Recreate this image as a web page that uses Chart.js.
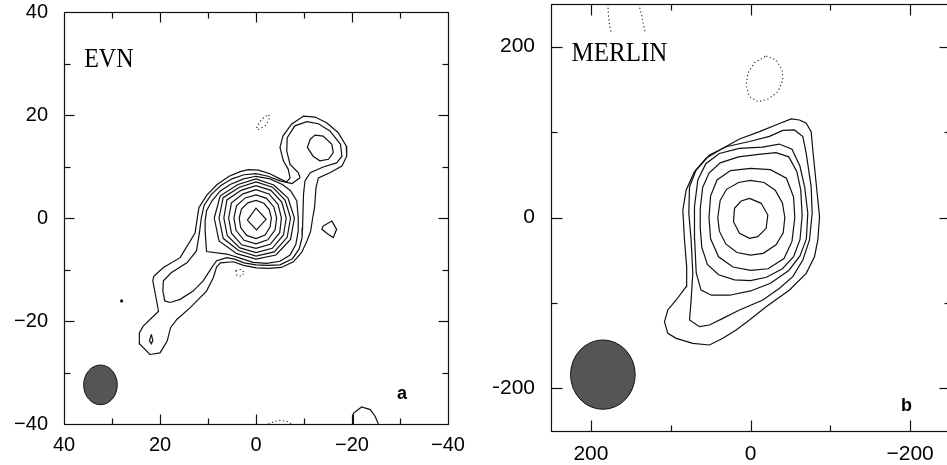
<!DOCTYPE html>
<html>
<head>
<meta charset="utf-8">
<script src="https://cdn.jsdelivr.net/npm/chart.js@4/dist/chart.umd.min.js"></script>
<style>
  html, body { margin: 0; padding: 0; background: #fff; overflow: hidden; width: 947px; height: 465px; }
  #evnBox { position: absolute; left: 0; top: 0; width: 480px; height: 465px; }
  #merlinBox { position: absolute; left: 493px; top: 0; width: 467px; height: 465px; }
</style>
</head>
<body>
<div id="evnBox"><canvas id="evn" width="480" height="465"></canvas></div>
<div id="merlinBox"><canvas id="merlin" width="467" height="465"></canvas></div>
<script>
// ---------- EVN map (offsets in mas, RA increases to the left) ----------
const evnTickValues = [40, 20, 0, -20, -40];
const evnMinorTicks = [30, 10, -10, -30];

// lowest positive level: core + NW knot + SE jet
const evnLevel1 = [[-6.4, 7.0], [-7.1, 7.8], [-6.7, 9.5], [-5.7, 11.1], [-5.0, 13.7], [-5.6, 15.9], [-7.4, 18.2], [-9.9, 19.8], [-12.3, 19.6], [-14.7, 18.5], [-17.1, 16.6], [-18.8, 14.0], [-18.9, 12.0], [-17.9, 10.1], [-15.4, 8.8], [-13.0, 7.8], [-12.5, 5.9], [-12.2, 2.0], [-11.8, 0.0], [-11.4, -2.5], [-10.6, -4.5], [-9.5, -6.7], [-7.8, -8.5], [-5.3, -9.6], [-2.6, -9.8], [-0.1, -9.7], [2.6, -9.2], [4.7, -8.5], [7.4, -8.7], [8.2, -9.5], [8.9, -11.6], [10.3, -14.2], [13.7, -17.4], [16.5, -19.7], [17.8, -21.3], [18.5, -23.9], [20.0, -26.2], [22.1, -26.5], [24.2, -24.5], [24.3, -22.3], [23.5, -21.0], [20.3, -18.1], [21.5, -12.2], [21.3, -11.3], [19.3, -9.6], [15.8, -7.7], [12.7, -2.9], [11.9, 2.0], [10.2, 4.5], [8.1, 6.5], [5.6, 8.1], [3.3, 9.0], [1.6, 9.4], [-0.5, 9.3], [-2.9, 8.6], [-5.0, 7.6]];
const evnLevel2 = [[-9.2, 7.8], [-8.8, 8.8], [-7.1, 10.4], [-6.4, 13.0], [-6.5, 15.6], [-8.1, 17.9], [-10.6, 18.7], [-13.0, 18.3], [-15.4, 16.9], [-17.6, 14.3], [-17.9, 12.0], [-16.8, 10.7], [-14.0, 9.9], [-11.3, 8.8], [-10.2, 7.2], [-9.9, 4.6], [-9.7, -1.9], [-9.6, -3.8], [-9.0, -6.0], [-7.6, -7.9], [-5.0, -9.1], [-2.5, -9.2], [0.0, -9.1], [2.5, -8.7], [4.5, -8.0], [6.1, -7.7], [8.2, -8.3], [9.2, -9.6], [11.0, -12.2], [13.1, -14.2], [15.8, -15.8], [17.9, -16.4], [19.0, -16.1], [19.4, -14.2], [19.3, -12.2], [17.6, -10.6], [14.4, -8.7], [12.4, -6.4], [11.8, -3.0], [11.4, 0.0], [10.8, 2.5], [9.3, 4.6], [7.3, 6.3], [5.0, 7.6], [2.5, 8.4], [0.0, 8.6], [-2.5, 8.1], [-5.0, 7.2], [-7.5, 6.7]];
const evnLevel3 = [[10.6, -2.5], [10.3, -6.5], [6.1, -7.0], [3.3, -7.8], [0.6, -8.6], [-2.2, -8.8], [-5.0, -8.4], [-7.1, -7.2], [-8.3, -5.1], [-8.8, -2.5], [-8.8, 0.0], [-8.5, 3.3], [-7.2, 5.3], [-5.5, 6.5], [-2.9, 7.6], [0.0, 8.1], [2.6, 7.6], [5.4, 6.5], [7.5, 5.2], [9.2, 3.3], [10.3, 1.4], [10.6, -0.6]];
const evnLevel4 = [[8.7, 0], [7.45, 4.3], [3.75, 6.5], [0, 7.6], [-3.7, 6.41], [-6.67, 3.85], [-8.0, 0], [-7.19, -4.15], [-4.15, -7.19], [0, -8.0], [4.0, -6.93], [7.71, -4.45]];
const evnLevel5 = [[7.7, 0], [6.84, 3.95], [3.45, 5.98], [0, 7.0], [-3.45, 5.98], [-6.06, 3.5], [-7.2, 0], [-6.5, -3.75], [-3.8, -6.58], [0, -7.4], [3.65, -6.32], [6.84, -3.95]];
const evnLevel6 = [[6.7, 0], [6.06, 3.5], [3.1, 5.37], [0, 6.3], [-3.1, 5.37], [-5.37, 3.1], [-6.3, 0], [-5.72, -3.3], [-3.4, -5.89], [0, -6.7], [3.35, -5.8], [5.98, -3.45]];
const evnLevel7 = [[5.7, 0], [5.11, 2.95], [2.7, 4.68], [0, 5.5], [-2.7, 4.68], [-4.59, 2.65], [-5.3, 0], [-4.94, -2.85], [-2.95, -5.11], [0, -5.9], [3.0, -5.2], [5.11, -2.95]];
const evnLevel8 = [[4.6, 0], [4.07, 2.35], [2.25, 3.9], [0, 4.5], [-2.2, 3.81], [-3.72, 2.15], [-4.3, 0], [-3.98, -2.3], [-2.45, -4.24], [0, -5.0], [2.5, -4.33], [4.16, -2.4]];
const evnLevel9 = [[3.5, 0], [3.03, 1.75], [1.7, 2.94], [0, 3.4], [-1.65, 2.86], [-2.77, 1.6], [-3.2, 0], [-2.94, -1.7], [-1.9, -3.29], [0, -4.0], [1.95, -3.38], [3.2, -1.85]];
const evnPeak = [[1.8, -0.4], [0, 1.9], [-2.1, -0.25], [-0.1, -2.3]];
const evnKnotNW = [[-11.3, 15.3], [-12.3, 16.1], [-14.0, 15.9], [-15.8, 14.3], [-16.1, 12.7], [-15.1, 11.4], [-13.3, 11.1], [-11.9, 12.0], [-10.7, 13.7]];
const evnIslandW = [[-14.0, -1.55], [-15.8, -0.6], [-16.8, -2.2], [-16.1, -3.8], [-15.1, -3.2], [-13.7, -2.2]];
const evnKnotSE = [[21.8, -22.6], [21.5, -23.8], [21.8, -24.4], [22.2, -23.8]];
const evnEdgeArc = [[-20.3, -40.0], [-20.3, -37.9], [-22.0, -36.7], [-23.8, -37.2], [-24.8, -38.5], [-25.5, -40.0]];
const evnSpot = [[28.0, -16.1]];
// negative levels (dotted)
const evnNegNorth = [[-0.1, 17.5], [-1.2, 19.2], [-2.6, 20.1], [-2.9, 19.5], [-1.9, 17.9], [-0.5, 17.2]];
const evnNegSouth = [[4.2, -10.2], [3.2, -10.0], [2.4, -10.6], [3.0, -11.3], [4.0, -11.1]];
const evnNegEdge = [[-2.6, -40.0], [-3.8, -39.5], [-5.2, -39.3], [-6.5, -39.5], [-7.4, -40.0]];
// restoring beam: centre x, centre y, semi-axis along x, semi-axis along y
const evnBeam = [32.4, -32.4, 3.5, 3.85];

// ---------- MERLIN map ----------
const merlinTickValues = [200, 0, -200];
const merlinMinorTicks = [100, -100];

const merlinLevel1 = [[-61.4, 114.2], [-69.8, 110.3], [-76.0, 100.5], [-78.1, 79.0], [-82.3, 39.8], [-86.5, 1.0], [-84.4, -26.3], [-80.2, -45.9], [-69.8, -65.4], [-48.9, -84.9], [-19.6, -104.4], [1.3, -120.0], [18.0, -131.7], [34.7, -141.5], [51.4, -149.3], [72.3, -147.3], [93.1, -141.5], [103.6, -135.6], [107.8, -122.0], [103.6, -108.3], [93.1, -96.6], [80.6, -81.0], [80.0, -57.6], [82.7, -26.3], [84.8, 8.8], [80.6, 32.2], [70.2, 53.7], [55.6, 69.3], [34.7, 81.0], [13.8, 92.0], [-11.3, 100.5], [-36.3, 110.0], [-51.0, 115.5]];
const merlinLevel2 = [[-40.5, 102.0], [-55.1, 102.5], [-65.6, 94.7], [-69.8, 75.1], [-76.0, 36.1], [-77.3, 4.9], [-73.9, -26.3], [-65.6, -49.8], [-53.0, -69.3], [-36.3, -82.9], [-15.5, -96.6], [13.8, -108.3], [34.7, -118.1], [51.4, -125.9], [63.9, -127.8], [76.4, -120.0], [74.4, -96.6], [72.3, -65.4], [74.4, -26.3], [77.3, 4.9], [76.4, 36.1], [68.1, 55.6], [51.4, 73.2], [30.5, 82.9], [1.3, 89.0], [-23.8, 95.0]];
const merlinLevel3 = [[70.2, 12.7], [66.0, 44.0], [56.0, 63.0], [39.0, 75.0], [14.0, 81.0], [-15.0, 82.5], [-36.0, 86.0], [-52.0, 80.0], [-62.0, 60.0], [-68.0, 35.0], [-71.8, 5.0], [-70.0, -25.0], [-62.0, -45.0], [-48.0, -62.0], [-25.0, -77.0], [0.0, -86.0], [26.0, -91.0], [49.0, -91.0], [62.0, -85.0], [68.0, -65.0], [70.0, -26.0]];
const merlinLevel4 = [[63.0, 10.0], [60.0, 35.0], [52.0, 52.0], [38.0, 64.0], [15.0, 71.0], [-10.0, 74.0], [-32.0, 76.0], [-48.0, 71.0], [-58.0, 54.0], [-63.0, 32.0], [-64.7, 2.0], [-62.0, -26.0], [-54.0, -46.0], [-40.0, -60.0], [-20.0, -70.0], [0.0, -74.0], [20.0, -73.0], [40.0, -67.0], [54.0, -55.0], [61.0, -35.0], [63.0, -12.0]];
const merlinLevel5 = [[52.0, 0.0], [50.0, 25.0], [42.0, 44.0], [25.0, 55.0], [0.0, 57.5], [-25.0, 56.0], [-45.0, 46.0], [-54.0, 24.0], [-55.5, 0.0], [-52.0, -28.0], [-42.0, -48.0], [-22.0, -60.0], [0.0, -62.0], [22.0, -58.0], [40.0, -46.0], [50.0, -25.0]];
const merlinLevel6 = [[41, 0], [38, 20], [30, 33], [15, 41], [0, 43.5], [-17, 41], [-31, 32], [-40, 17], [-43, 0], [-41, -18], [-32, -32], [-16, -42], [0, -44], [17, -41], [31, -31], [39, -16]];
const merlinLevel7 = [[1.3, 22.4], [-13.4, 16.6], [-21.7, 2.9], [-19.6, -12.7], [-9.2, -22.4], [1.3, -24.4], [13.8, -18.5], [21.3, -4.9], [20.0, 10.7], [11.7, 19.3]];
// negative levels (dotted)
const merlinNegNorth = [[-19.6, 189.1], [-32.2, 184.4], [-39.7, 172.7], [-40.5, 161.0], [-34.3, 147.3], [-21.7, 138.4], [-9.2, 135.6], [1.3, 141.5], [5.4, 155.1], [3.3, 168.8], [-5.0, 181.3]];
const merlinNegEdgeA = [[178.8, 250], [178.0, 237], [176.7, 225.4], [174.6, 216]];
const merlinNegEdgeB = [[140.0, 250], [136.5, 237], [134.1, 225.4], [131.6, 216]];
const merlinBeam = [185, -184, 40.5, 40.6];

// ---------- helpers ----------
Chart.defaults.font.family = '"Liberation Sans", Arial, Helvetica, sans-serif';
Chart.defaults.color = '#000';

const toPoints = pts => pts.map(([x, y]) => ({ x, y }));
const closed = pts => toPoints(pts.concat([pts[0]]));

function contour(pts, isClosed = true) {
  return {
    data: isClosed ? closed(pts) : toPoints(pts),
    showLine: true, pointRadius: 0, tension: 0, fill: false,
    borderColor: '#111', borderWidth: 1.2
  };
}
function dotted(pts, isClosed = true) {
  return Object.assign(contour(pts, isClosed), { borderWidth: 1.1, borderDash: [1.2, 2.6], borderColor: '#222' });
}
const fmt = v => (v < 0 ? '\u2212' + Math.abs(v) : String(v));
const noPad = s => { s.paddingTop = 0; s.paddingBottom = 0; s.paddingLeft = 0; s.paddingRight = 0; };

// frame, inward tick marks, beam and panel annotations
const panelDecor = {
  id: 'panelDecor',
  beforeDatasetsDraw(chart, args, o) {
    const { ctx, scales: { x, y } } = chart;
    const [cx, cy, ax, ay] = o.beam;
    const px = x.getPixelForValue(cx), py = y.getPixelForValue(cy);
    const rx = Math.abs(x.getPixelForValue(cx + ax) - px);
    const ry = Math.abs(y.getPixelForValue(cy + ay) - py);
    ctx.save();
    ctx.beginPath();
    ctx.ellipse(px, py, rx, ry, 0, 0, Math.PI * 2);
    ctx.fillStyle = '#555';
    ctx.fill();
    ctx.lineWidth = 1;
    ctx.strokeStyle = '#111';
    ctx.stroke();
    ctx.restore();
  },
  afterDraw(chart, args, o) {
    const { ctx, chartArea: a, scales: { x, y } } = chart;
    ctx.save();
    ctx.strokeStyle = '#111';
    ctx.lineWidth = 1.2;
    const L = Math.round(a.left) + 0.5, R = Math.round(a.right) + 0.5;
    const T = Math.round(a.top) + 0.5, B = Math.round(a.bottom) + 0.5;
    ctx.strokeRect(L, T, R - L, B - T);
    const seg = (x1, y1, x2, y2) => { ctx.beginPath(); ctx.moveTo(x1, y1); ctx.lineTo(x2, y2); ctx.stroke(); };
    const marks = (vals, len) => {
      vals.forEach(v => {
        const px = Math.round(x.getPixelForValue(v)) + 0.5;
        seg(px, B, px, B - len); seg(px, T, px, T + len);
      });
      vals.forEach(v => {
        const py = Math.round(y.getPixelForValue(v)) + 0.5;
        seg(L, py, L + len, py); seg(R, py, R - len, py);
      });
    };
    marks(o.major, o.majorLen);
    marks(o.minor, o.minorLen);
    // map name (slightly tall serif caps) and panel letter
    ctx.fillStyle = '#000';
    ctx.textBaseline = 'alphabetic';
    ctx.save();
    ctx.translate(x.getPixelForValue(o.name.at[0]), y.getPixelForValue(o.name.at[1]));
    ctx.scale(1, 1.12);
    ctx.font = o.nameFont;
    ctx.textAlign = 'left';
    ctx.fillText(o.name.text, 0, 0);
    ctx.restore();
    ctx.font = 'bold 18px "Liberation Sans", Arial, sans-serif';
    ctx.textAlign = 'center';
    ctx.fillText(o.letter.text, x.getPixelForValue(o.letter.at[0]), y.getPixelForValue(o.letter.at[1]));
    ctx.restore();
  }
};

function makePanel(id, p) {
  return new Chart(document.getElementById(id), {
    type: 'scatter',
    data: { datasets: p.datasets },
    options: {
      responsive: false, animation: false, devicePixelRatio: 1,
      layout: { padding: { left: 0, right: p.padRight, top: p.padTop, bottom: 0 } },
      plugins: { legend: { display: false }, tooltip: { enabled: false }, panelDecor: p.decor },
      scales: {
        x: {
          type: 'linear', reverse: true, min: -p.range, max: p.range,
          afterBuildTicks: s => { s.ticks = p.ticks.map(v => ({ value: v })); },
          afterFit: s => { s.height = p.xHeight; noPad(s); },
          ticks: { callback: fmt, font: { size: p.fontSize }, padding: p.xPad, maxRotation: 0, autoSkip: false },
          grid: { display: false, drawTicks: false }, border: { display: false }
        },
        y: {
          type: 'linear', min: -p.range, max: p.range,
          afterBuildTicks: s => { s.ticks = p.ticks.map(v => ({ value: v })); },
          afterFit: s => { s.width = p.yWidth; noPad(s); },
          ticks: { callback: fmt, font: { size: p.fontSize }, padding: 16, autoSkip: false },
          grid: { display: false, drawTicks: false }, border: { display: false }
        }
      }
    },
    plugins: [panelDecor]
  });
}

makePanel('evn', {
  range: 40, ticks: evnTickValues, padRight: 32, padTop: 12, xHeight: 41, yWidth: 64, fontSize: 20, xPad: 9,
  datasets: [
    contour(evnLevel1), contour(evnLevel2), contour(evnLevel3), contour(evnLevel4),
    contour(evnLevel5), contour(evnLevel6), contour(evnLevel7), contour(evnLevel8),
    contour(evnLevel9), contour(evnPeak), contour(evnKnotNW), contour(evnIslandW),
    contour(evnKnotSE), contour(evnEdgeArc, false),
    dotted(evnNegNorth), dotted(evnNegSouth), dotted(evnNegEdge, false),
    { data: toPoints(evnSpot), showLine: false, pointRadius: 1.6, pointBackgroundColor: '#111', pointBorderWidth: 0 }
  ],
  decor: {
    beam: evnBeam, major: [20, 0, -20], minor: evnMinorTicks, majorLen: 10, minorLen: 6,
    name: { text: 'EVN', at: [35.8, 29.3] }, nameFont: '24px "Liberation Serif", "DejaVu Serif", serif',
    letter: { text: 'a', at: [-30.4, -35.1] }
  }
});

makePanel('merlin', {
  range: 250, ticks: merlinTickValues, padRight: 10, padTop: 4, xHeight: 34, yWidth: 58, fontSize: 21, xPad: 11,
  datasets: [
    contour(merlinLevel1), contour(merlinLevel2), contour(merlinLevel3), contour(merlinLevel4),
    contour(merlinLevel5), contour(merlinLevel6), contour(merlinLevel7),
    dotted(merlinNegNorth), dotted(merlinNegEdgeA, false), dotted(merlinNegEdgeB, false)
  ],
  decor: {
    beam: merlinBeam, major: merlinTickValues, minor: merlinMinorTicks, majorLen: 11, minorLen: 6,
    name: { text: 'MERLIN', at: [224.3, 183.3] }, nameFont: '25px "Liberation Serif", "DejaVu Serif", serif',
    letter: { text: 'b', at: [-195.5, -226.2] }
  }
});
</script>
</body>
</html>
